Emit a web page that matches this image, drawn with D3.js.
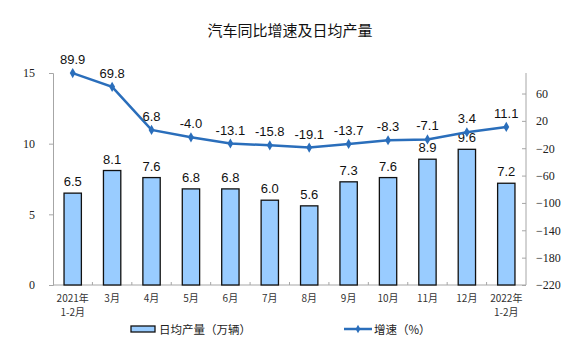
<!DOCTYPE html>
<html><head><meta charset="utf-8">
<script src="https://cdn.jsdelivr.net/npm/d3@7"></script>
<style>body{margin:0;background:#fff}svg{display:block}.serif{font-family:"Liberation Serif","DejaVu Serif",serif}</style>
</head><body>
<svg id="c" width="575" height="355"></svg>
<script>
const categories = ["2021年\n1-2月","3月","4月","5月","6月","7月","8月","9月","10月","11月","12月","2022年\n1-2月"];
const dailyOutput = [6.5,8.1,7.6,6.8,6.8,6.0,5.6,7.3,7.6,8.9,9.6,7.2];
const growth = [89.9,69.8,6.8,-4.0,-13.1,-15.8,-19.1,-13.7,-8.3,-7.1,3.4,11.1];
const leftTicks = [0,5,10,15];
const rightTicks = [60,20,-20,-60,-100,-140,-180,-220];
const title = "汽车同比增速及日均产量";
const legendBar = "日均产量（万辆）";
const legendLine = "增速（%）";

const svg = d3.select("#c");
const L = 53, R = 526, T = 73, B = 285;
const x = d3.scaleBand().domain(categories).range([L, R]).paddingInner(0.56).paddingOuter(0.28);
const yL = d3.scaleLinear().domain([0, 15]).range([B, T]);
const yR = d3.scaleLinear().domain([-220, 90]).range([B, T]);
const cx = d => x(d) + x.bandwidth()/2;
const axisCol = "#a6a6a6";
const lineCol = "#2a6ebb";

svg.append("text").attr("x", 290).attr("y", 36).attr("text-anchor","middle")
  .style("font-family","'Noto Sans CJK SC'").style("font-size","15px").attr("fill","#111").text(title);

// left axis
const gl = svg.append("g").attr("transform",`translate(${L},0)`)
  .call(d3.axisLeft(yL).tickValues(leftTicks).tickSize(4).tickPadding(14));
gl.attr("font-family",null);
gl.select(".domain").attr("stroke",axisCol);
gl.selectAll(".tick line").attr("stroke",axisCol);
gl.selectAll(".tick text").attr("class","serif").style("font-size","12px").attr("fill","#222");

// right axis
const gr = svg.append("g").attr("transform",`translate(${R},0)`)
  .call(d3.axisRight(yR).tickValues(rightTicks).tickSize(-4).tickPadding(10));
gr.attr("font-family",null);
gr.select(".domain").attr("stroke",axisCol).attr("d",`M0,${T}V${B}`);
gr.selectAll(".tick line").attr("stroke",axisCol);
gr.selectAll(".tick text").attr("class","serif").style("font-size","12px").attr("fill","#222");

// x axis
const step = x.step();
svg.append("line").attr("x1",L).attr("x2",R).attr("y1",B).attr("y2",B).attr("stroke",axisCol);
svg.append("g").selectAll("line").data(categories.slice(1)).join("line")
  .attr("x1", d => x(d) - step*0.28).attr("x2", d => x(d) - step*0.28)
  .attr("y1", B).attr("y2", B-3).attr("stroke",axisCol);
const xl = svg.append("g").selectAll("text").data(categories).join("text")
  .attr("text-anchor","middle").style("font-family","'Noto Sans CJK SC'").style("font-size","10px").attr("fill","#333");
xl.each(function(d){
  const parts = d.split("\n");
  d3.select(this).selectAll("tspan").data(parts).join("tspan")
    .attr("x", cx(d)).attr("y",(p,i)=>B+17+i*14).text(p=>p);
});

// bars
svg.append("g").selectAll("rect").data(categories).join("rect")
  .attr("x", d => x(d)).attr("width", x.bandwidth())
  .attr("y", (d,i) => yL(dailyOutput[i])).attr("height",(d,i)=>B - yL(dailyOutput[i]))
  .attr("fill","#99ccff").attr("stroke","#111").attr("stroke-width",1.3);
svg.append("g").selectAll("text").data(categories).join("text")
  .attr("x", d => cx(d)).attr("y",(d,i)=>yL(dailyOutput[i]) - 7)
  .attr("text-anchor","middle").style("font-family","'Liberation Sans'").style("font-size","13px").attr("fill","#111")
  .text((d,i)=>dailyOutput[i].toFixed(1));

// line
const line = d3.line().x((d,i)=>cx(categories[i])).y(d=>yR(d));
svg.append("path").datum(growth).attr("d",line).attr("fill","none").attr("stroke",lineCol).attr("stroke-width",2.5);
svg.append("g").selectAll("path").data(growth).join("path")
  .attr("d", d3.symbol(d3.symbolDiamond, 30))
  .attr("transform",(d,i)=>`translate(${cx(categories[i])},${yR(d)})`).attr("fill",lineCol);
svg.append("g").selectAll("text").data(growth).join("text")
  .attr("x",(d,i)=>cx(categories[i])).attr("y", d=>yR(d) - 9)
  .attr("text-anchor","middle").style("font-family","'Liberation Sans'").style("font-size","13px").attr("fill","#111")
  .text(d=>d.toFixed(1));

// legend
svg.append("rect").attr("x",131).attr("y",326).attr("width",24).attr("height",6)
  .attr("fill","#99ccff").attr("stroke","#111").attr("stroke-width",1.3);
svg.append("text").attr("x",159).attr("y",334).style("font-family","'Noto Sans CJK SC'").style("font-size","11.5px").attr("fill","#222").text(legendBar);
svg.append("line").attr("x1",344).attr("x2",372).attr("y1",329).attr("y2",329).attr("stroke",lineCol).attr("stroke-width",2.5);
svg.append("path").attr("d", d3.symbol(d3.symbolDiamond, 20)).attr("transform","translate(358,329)").attr("fill",lineCol);
svg.append("text").attr("x",374).attr("y",334).style("font-family","'Noto Sans CJK SC'").style("font-size","11.5px").attr("fill","#222").text(legendLine);
</script>
</body></html>
